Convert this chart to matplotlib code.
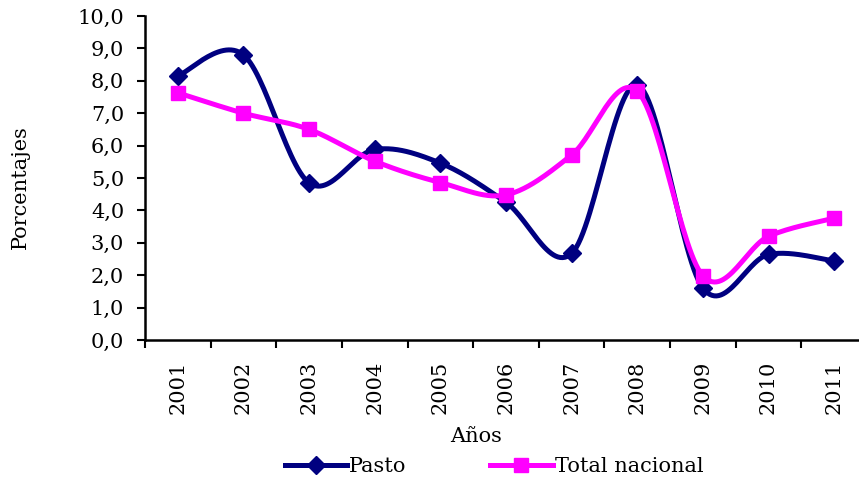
import numpy as np
import matplotlib
matplotlib.use("Agg")
import matplotlib.pyplot as plt
from matplotlib.ticker import FuncFormatter, FixedLocator

years = ["2001", "2002", "2003", "2004", "2005", "2006", "2007", "2008", "2009", "2010", "2011"]
pasto = [8.15, 8.8, 4.85, 5.88, 5.46, 4.25, 2.67, 7.87, 1.6, 2.64, 2.44]
nacional = [7.63, 7.0, 6.5, 5.52, 4.86, 4.48, 5.71, 7.68, 1.98, 3.2, 3.76]

plt.rcParams["font.family"] = ["DejaVu Serif"]


def smooth(y, n=30):
    # curva suave tipo Excel (Bezier con puntos de control de Catmull-Rom)
    y = np.asarray(y, float)
    x = np.arange(len(y), dtype=float)
    px, py = [], []
    for i in range(len(y) - 1):
        i0, i3 = max(i - 1, 0), min(i + 2, len(y) - 1)
        p0 = np.array([x[i], y[i]])
        p3 = np.array([x[i + 1], y[i + 1]])
        c1 = p0 + (np.array([x[i + 1], y[i + 1]]) - np.array([x[i0], y[i0]])) / 6
        c2 = p3 - (np.array([x[i3], y[i3]]) - np.array([x[i], y[i]])) / 6
        t = np.linspace(0, 1, n)[:, None]
        b = (1 - t) ** 3 * p0 + 3 * (1 - t) ** 2 * t * c1 + 3 * (1 - t) * t ** 2 * c2 + t ** 3 * p3
        px.extend(b[:, 0]); py.extend(b[:, 1])
    return np.array(px), np.array(py)


fig = plt.figure(figsize=(8.59, 4.82), dpi=100)
# el eje x sigue más allá del borde derecho, como en el original
ax = fig.add_axes([145 / 859, 1 - 340 / 482, 722 / 859, 324 / 482])

navy = "#000080"
mag = "#FF00FF"
x = np.arange(len(years))

sx, sy = smooth(pasto)
ax.plot(sx, sy, color=navy, lw=3.6, zorder=3, solid_capstyle="round")
ax.plot(x, pasto, ls="none", marker="D", ms=9.5, color=navy, zorder=4)
sx, sy = smooth(nacional)
ax.plot(sx, sy, color=mag, lw=3.6, zorder=5, solid_capstyle="round")
ax.plot(x, nacional, ls="none", marker="s", ms=10, color=mag, zorder=6)

ax.set_xlim(-0.5, len(years) - 0.5)
ax.set_ylim(0, 10)
ax.set_yticks(np.arange(0, 10.01, 1))
ax.yaxis.set_major_formatter(FuncFormatter(lambda v, p: f"{v:.1f}".replace(".", ",")))
ax.set_xticks(x)
ax.set_xticklabels(years, rotation=90)
ax.xaxis.set_minor_locator(FixedLocator(np.arange(-0.5, len(years), 1)))
ax.tick_params(axis="x", which="major", length=0, pad=15, labelsize=15)
ax.tick_params(axis="x", which="minor", length=6, width=1.5, direction="out")
ax.tick_params(axis="y", length=6, width=1.5, direction="out", labelsize=15, pad=9)

for s in ["top", "right"]:
    ax.spines[s].set_visible(False)
for s in ["left", "bottom"]:
    ax.spines[s].set_linewidth(1.8)

ax.set_ylabel("Porcentajes", fontsize=15, va="center")
ax.yaxis.set_label_coords(-125 / 722, (340 - 187) / 324)
ax.set_xlabel("Años", fontsize=15, va="center")
ax.xaxis.set_label_coords((476 - 145) / 722, -(437 - 340) / 324)

h1, = ax.plot([], [], color=navy, lw=3.6, marker="D", ms=9.5)
h2, = ax.plot([], [], color=mag, lw=3.6, marker="s", ms=10)
fig.legend([h1, h2], ["Pasto", "Total nacional"], loc="center", bbox_to_anchor=(494 / 859, 1 - 467 / 482),
           ncol=2, frameon=False, fontsize=15, handlelength=3.0, handletextpad=0.1, columnspacing=4.0)

fig.savefig("out.png", dpi=100)
